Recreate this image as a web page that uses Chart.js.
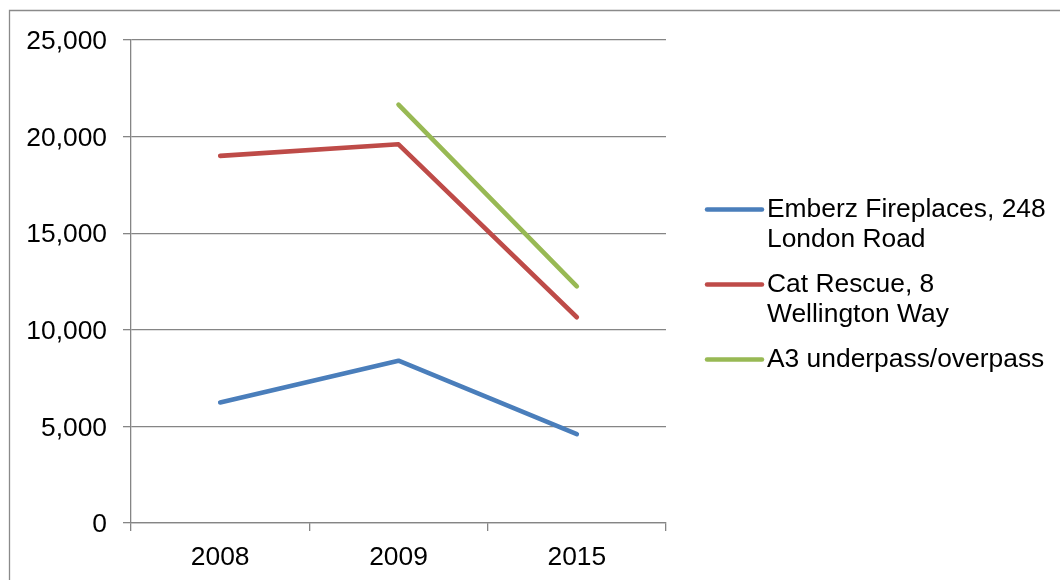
<!DOCTYPE html>
<html>
<head>
<meta charset="utf-8">
<script src="https://cdn.jsdelivr.net/npm/chart.js@4/dist/chart.umd.min.js"></script>
<style>
  html, body { margin: 0; padding: 0; background: #ffffff; }
  #wrap { width: 1060px; height: 580px; position: relative; }
</style>
</head>
<body>
<div id="wrap"><canvas id="c" width="1060" height="580"></canvas></div>
<script>
// Survey years along the category axis
const YEARS = ['2008', '2009', '2015'];

// Counts per site and year (null = not surveyed that year)
const EMBERZ = [6240, 8400, 4600];
const CAT_RESCUE = [19000, 19600, 10650];
const A3_PASS = [null, 21650, 12250];

// Legend names, already split across lines
const NAME_EMBERZ = ['Emberz Fireplaces, 248', 'London Road'];
const NAME_CAT = ['Cat Rescue, 8', 'Wellington Way'];
const NAME_A3 = ['A3 underpass/overpass'];

// Value axis range and step
const Y_MIN = 0;
const Y_MAX = 25000;
const Y_STEP = 5000;

const FONT = '"Liberation Sans", Arial, Helvetica, sans-serif';
const FONT_SIZE = 26.4;
const GRID = '#858585';

const series = [
  { name: NAME_EMBERZ, data: EMBERZ, color: '#4A7EBB' },
  { name: NAME_CAT, data: CAT_RESCUE, color: '#BE4B48' },
  { name: NAME_A3, data: A3_PASS, color: '#98B954' }
];

// Outer frame and the wrapped right-hand legend
const framePlugin = {
  id: 'frameAndLegend',
  beforeDraw(chart) {
    const ctx = chart.ctx;
    ctx.save();
    ctx.fillStyle = '#ffffff';
    ctx.fillRect(0, 0, chart.width, chart.height);
    ctx.strokeStyle = '#8a8a8a';
    ctx.lineWidth = 1.3;
    ctx.beginPath();
    ctx.moveTo(9.5, chart.height + 5);
    ctx.lineTo(9.5, 10.5);
    ctx.lineTo(chart.width + 5, 10.5);
    ctx.stroke();
    ctx.restore();
  },
  afterDraw(chart) {
    const ctx = chart.ctx;
    const x0 = 707, x1 = 762, tx = 767;
    const lineH = 30, gap = 15;
    let y = 209.5;
    ctx.save();
    chart.data.datasets.forEach((ds) => {
      ctx.strokeStyle = ds.borderColor;
      ctx.lineWidth = 4.5;
      ctx.lineCap = 'round';
      ctx.beginPath();
      ctx.moveTo(x0, y);
      ctx.lineTo(x1, y);
      ctx.stroke();
      ctx.fillStyle = '#000000';
      ctx.font = FONT_SIZE + 'px ' + FONT;
      ctx.textAlign = 'left';
      ctx.textBaseline = 'alphabetic';
      ds.nameLines.forEach((t, i) => {
        ctx.fillText(t, tx, y + 7.5 + i * lineH);
      });
      y += ds.nameLines.length * lineH + gap;
    });
    ctx.restore();
  }
};

new Chart(document.getElementById('c'), {
  type: 'line',
  data: {
    labels: YEARS,
    datasets: series.map(s => ({
      label: s.name.join(' '),
      nameLines: s.name,
      data: s.data,
      borderColor: s.color,
      backgroundColor: s.color,
      borderWidth: 4.6,
      borderCapStyle: 'round',
      borderJoinStyle: 'round',
      pointRadius: 0,
      pointHoverRadius: 0,
      tension: 0,
      spanGaps: false,
      fill: false
    }))
  },
  options: {
    responsive: false,
    animation: false,
    events: [],
    layout: { padding: { left: 0, right: 394, top: 40, bottom: 0 } },
    plugins: {
      legend: { display: false },
      tooltip: { enabled: false },
      title: { display: false }
    },
    scales: {
      x: {
        offset: true,
        grid: {
          offset: true,
          drawOnChartArea: false,
          drawTicks: true,
          tickLength: 8,
          color: GRID,
          lineWidth: 1.3
        },
        border: { display: true, color: GRID, width: 1.3 },
        ticks: {
          color: '#000000',
          font: { family: FONT, size: FONT_SIZE },
          padding: 11,
          maxRotation: 0
        },
        afterFit(scale) { scale.height = 57; }
      },
      y: {
        min: Y_MIN,
        max: Y_MAX,
        grid: {
          drawTicks: true,
          tickLength: 8,
          color: GRID,
          lineWidth: 1.3
        },
        border: { display: true, color: GRID, width: 1.3 },
        ticks: {
          stepSize: Y_STEP,
          color: '#000000',
          font: { family: FONT, size: FONT_SIZE },
          padding: 16,
          labelOffset: 2,
          callback: v => Number(v).toLocaleString('en-US')
        },
        afterFit(scale) { scale.width = 131; }
      }
    }
  },
  plugins: [framePlugin]
});
</script>
</body>
</html>
